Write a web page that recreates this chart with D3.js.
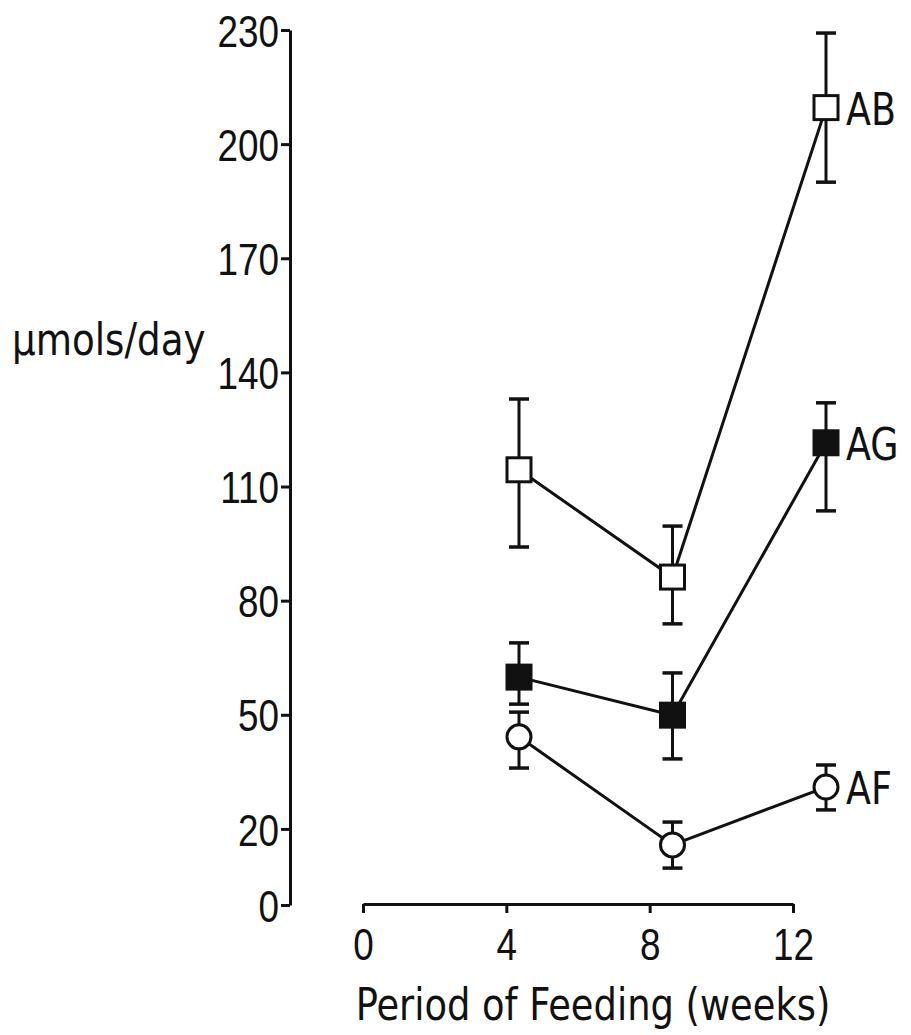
<!DOCTYPE html>
<html>
<head>
<meta charset="utf-8">
<script src="https://cdn.jsdelivr.net/npm/d3@7"></script>
<style>
    body { margin: 0; background: #fff; }
    text { font-family: "Liberation Sans Narrow", "DejaVu Sans Condensed", sans-serif; fill: #111; }
</style>
</head>
<body>
<svg id="chart"></svg>
<script>
// weeks of feeding
var weeks = [4, 8, 12];

// series means (umols/day)
var abMean = [114.4, 86.2, 209.6];
var agMean = [59.9, 49.9, 121.5];
var afMean = [44.2, 15.8, 31.0];

// error bar ends
var abLow = [94.1, 73.9, 190.0];
var abHigh = [133.0, 99.6, 229.2];
var agLow = [52.8, 38.4, 103.6];
var agHigh = [68.9, 61.0, 132.0];
var afLow = [36.0, 9.7, 25.0];
var afHigh = [50.7, 21.8, 36.8];

var seriesNames = ["AB", "AG", "AF"];
var yTicks = [0, 20, 50, 80, 110, 140, 170, 200, 230];
var xTicks = [0, 4, 8, 12];

// squeeze text horizontally, the original lettering is narrow
function narrow(sel, sx) {
    sel.each(function () {
        var t = d3.select(this);
        var x = +t.attr("x") || 0;
        var y = +t.attr("y") || 0;
        t.attr("x", 0).attr("y", 0)
            .attr("transform", "translate(" + x + "," + y + ") scale(" + sx + ",1)");
    });
}

function init() {
    var w = 911;
    var h = 1035;

    var svg = d3.select("#chart")
        .attr("width", w)
        .attr("height", h);

    var yScale = d3.scaleLinear()
        .domain([0, 230])
        .range([905, 30]);

    // the drawn x axis is a bit shorter than the spacing of the plotted points
    var xAxisScale = d3.scaleLinear()
        .domain([0, 12])
        .range([363, 793]);

    var xScale = d3.scaleLinear()
        .domain([0, 12])
        .range([365.5, 826]);

    // y-axis
    var yAxis = d3.axisLeft(yScale)
        .tickValues(yTicks)
        .tickSize(9)
        .tickPadding(2)
        .tickSizeOuter(0);

    var gy = svg.append("g")
        .attr("transform", "translate(290,0)")
        .call(yAxis);
    gy.select(".domain").attr("stroke", "#111").attr("stroke-width", 3);
    gy.selectAll(".tick line").attr("stroke", "#111").attr("stroke-width", 3);
    gy.selectAll(".tick text")
        .attr("font-size", 45)
        .attr("dy", "0.36em")
        .style("font-family", "inherit");
    narrow(gy.selectAll(".tick text"), 0.82);

    // x-axis
    var xAxis = d3.axisBottom(xAxisScale)
        .tickValues(xTicks)
        .tickSize(9)
        .tickSizeOuter(0);

    var gx = svg.append("g")
        .attr("transform", "translate(0,904)")
        .call(xAxis);
    gx.select(".domain").attr("stroke", "#111").attr("stroke-width", 3);
    gx.selectAll(".tick line").attr("stroke", "#111").attr("stroke-width", 3);
    gx.selectAll(".tick text")
        .attr("font-size", 45)
        .attr("y", 56)
        .attr("dy", 0)
        .style("font-family", "inherit");
    narrow(gx.selectAll(".tick text"), 0.82);
    svg.selectAll(".tick text").attr("fill", "#111");

    // axis labels
    var xlabel = svg.append("text")
        .attr("x", 593)
        .attr("y", 1020)
        .attr("text-anchor", "middle")
        .attr("font-size", 45)
        .text("Period of Feeding (weeks)");
    narrow(xlabel, 0.91);

    var ylabel = svg.append("text")
        .attr("x", 12)
        .attr("y", 355)
        .attr("font-size", 45)
        .text("µmols/day");
    narrow(ylabel, 0.92);

    var series = [
        { name: seriesNames[0], mean: abMean, low: abLow, high: abHigh, shape: "square", fill: "#fff" },
        { name: seriesNames[1], mean: agMean, low: agLow, high: agHigh, shape: "square", fill: "#111" },
        { name: seriesNames[2], mean: afMean, low: afLow, high: afHigh, shape: "circle", fill: "#fff" }
    ];

    var line = d3.line()
        .x(function (d) { return xScale(d.x); })
        .y(function (d) { return yScale(d.y); });

    series.forEach(function (s) {
        var pts = weeks.map(function (wk, i) {
            return { x: wk, y: s.mean[i], lo: s.low[i], hi: s.high[i] };
        });

        var g = svg.append("g");

        // error bars
        g.selectAll(".err")
            .data(pts)
            .enter()
            .append("line")
            .attr("x1", function (d) { return xScale(d.x); })
            .attr("x2", function (d) { return xScale(d.x); })
            .attr("y1", function (d) { return yScale(d.lo); })
            .attr("y2", function (d) { return yScale(d.hi); })
            .attr("stroke", "#111")
            .attr("stroke-width", 3);

        g.selectAll(".capLo")
            .data(pts)
            .enter()
            .append("line")
            .attr("x1", function (d) { return xScale(d.x) - 10; })
            .attr("x2", function (d) { return xScale(d.x) + 10; })
            .attr("y1", function (d) { return yScale(d.lo); })
            .attr("y2", function (d) { return yScale(d.lo); })
            .attr("stroke", "#111")
            .attr("stroke-width", 3.5);

        g.selectAll(".capHi")
            .data(pts)
            .enter()
            .append("line")
            .attr("x1", function (d) { return xScale(d.x) - 10; })
            .attr("x2", function (d) { return xScale(d.x) + 10; })
            .attr("y1", function (d) { return yScale(d.hi); })
            .attr("y2", function (d) { return yScale(d.hi); })
            .attr("stroke", "#111")
            .attr("stroke-width", 3.5);

        g.append("path")
            .datum(pts)
            .attr("d", line)
            .attr("fill", "none")
            .attr("stroke", "#111")
            .attr("stroke-width", 3);

        if (s.shape == "square") {
            g.selectAll(".mark")
                .data(pts)
                .enter()
                .append("rect")
                .attr("x", function (d) { return xScale(d.x) - 12; })
                .attr("y", function (d) { return yScale(d.y) - 12; })
                .attr("width", 24)
                .attr("height", 24)
                .attr("fill", s.fill)
                .attr("stroke", "#111")
                .attr("stroke-width", 3);
        } else {
            g.selectAll(".mark")
                .data(pts)
                .enter()
                .append("circle")
                .attr("cx", function (d) { return xScale(d.x); })
                .attr("cy", function (d) { return yScale(d.y); })
                .attr("r", 12)
                .attr("fill", s.fill)
                .attr("stroke", "#111")
                .attr("stroke-width", 3);
        }

        var last = pts[pts.length - 1];
        var lbl = g.append("text")
            .attr("x", xScale(last.x) + 20)
            .attr("y", yScale(last.y) + 17)
            .attr("font-size", 45)
            .text(s.name);
        narrow(lbl, 0.9);
    });
}
window.onload = init;
</script>
</body>
</html>
